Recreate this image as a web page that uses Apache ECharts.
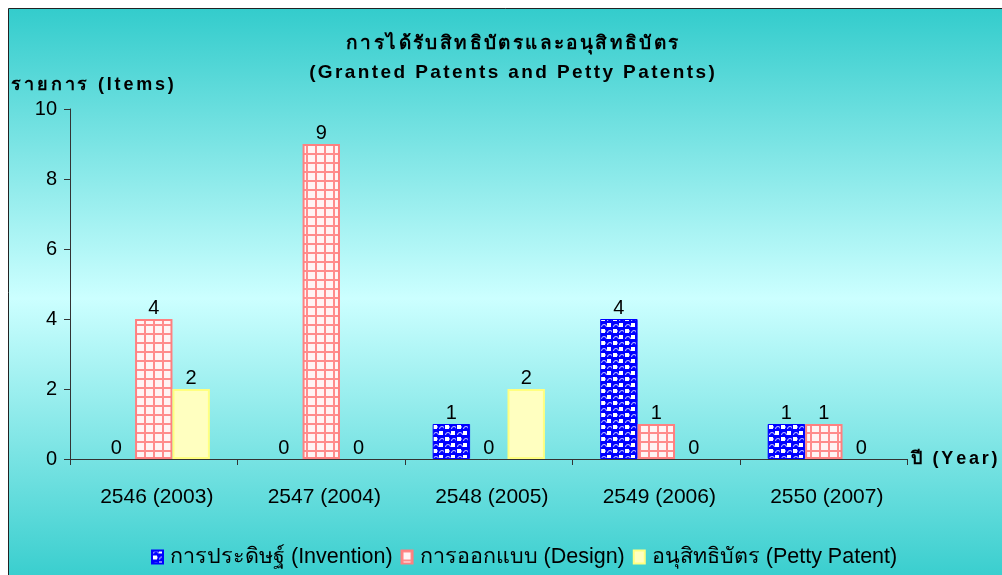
<!DOCTYPE html>
<html>
<head>
<meta charset="utf-8">
<script src="https://cdn.jsdelivr.net/npm/echarts@6/dist/echarts.min.js"></script>
<style>
  html, body { margin: 0; padding: 0; background: #ffffff; }
  #chart { width: 1002px; height: 575px; }
</style>
</head>
<body>
<div id="chart"></div>
<script>
// Granted patents and petty patents per year
const years = ['2546 (2003)', '2547 (2004)', '2548 (2005)', '2549 (2006)', '2550 (2007)'];
const seriesNames = ['การประดิษฐ์ (Invention)', 'การออกแบบ (Design)', 'อนุสิทธิบัตร (Petty Patent)'];
const invention = [0, 0, 1, 4, 1];
const design = [4, 9, 0, 1, 1];
const pettyPatent = [2, 0, 2, 0, 0];
const yTicks = [0, 2, 4, 6, 8, 10];
const titleLines = ['การได้รับสิทธิบัตรและอนุสิทธิบัตร', '(Granted Patents and Petty Patents)'];
const yName = 'รายการ (Items)';
const xName = 'ปี (Year)';

const FONT = '"Liberation Sans", Arial, "Noto Sans", sans-serif';

// Split text into clusters (Thai base letter + its combining marks) and wrap
// each one in a rich-text token so the bold headings get extra tracking.
function isThaiMark(ch) {
  const c = ch.charCodeAt(0);
  return c === 0x0E31 || (c >= 0x0E34 && c <= 0x0E3A) || (c >= 0x0E47 && c <= 0x0E4E);
}
function tracked(str, style) {
  const clusters = [];
  for (const ch of str) {
    if (clusters.length && isThaiMark(ch)) clusters[clusters.length - 1] += ch;
    else clusters.push(ch);
  }
  return clusters.map(c => '{' + style + '|' + c + '}').join('');
}
function boldTrack(size, lineHeight, pad) {
  return {
    fontSize: size,
    fontWeight: 'bold',
    color: '#000',
    fontFamily: FONT,
    lineHeight: lineHeight,
    padding: [0, pad, 0, pad]
  };
}

// Blue fill with white dotted/checker motif
function inventionPattern() {
  const c = document.createElement('canvas');
  c.width = 12; c.height = 12;
  const g = c.getContext('2d');
  g.fillStyle = '#0000ff';
  g.fillRect(0, 0, 12, 12);
  g.strokeStyle = '#d0d0ff';
  g.lineWidth = 1;
  g.beginPath(); g.arc(4, 3, 2.5, Math.PI, 2 * Math.PI); g.stroke();
  g.beginPath(); g.arc(10, 9, 2.5, Math.PI, 2 * Math.PI); g.stroke();
  g.fillStyle = '#ffffff';
  g.fillRect(1, 5, 4, 4);
  g.fillRect(7, 0, 4, 3);
  g.fillRect(7, 11, 4, 1);
  g.fillStyle = '#8080ff';
  g.fillRect(5, 6, 1, 2);
  return c;
}

// Pink grid with pale squares
function designPattern() {
  const c = document.createElement('canvas');
  c.width = 9; c.height = 9;
  const g = c.getContext('2d');
  g.fillStyle = '#fff4f4';
  g.fillRect(0, 0, 9, 9);
  g.fillStyle = '#ff8c8c';
  g.fillRect(0, 0, 9, 2);
  g.fillRect(0, 0, 2, 9);
  return c;
}

// Zero-height bars get no outline
function barData(values, borderWidth) {
  return values.map(v => ({ value: v, itemStyle: { borderWidth: v === 0 ? 0 : borderWidth } }));
}

const chart = echarts.init(document.getElementById('chart'), null, { renderer: 'canvas' });

const labelStyle = {
  show: true,
  position: 'top',
  color: '#000',
  fontSize: 20,
  fontFamily: FONT,
  distance: 1
};

chart.setOption({
  animation: false,
  graphic: [{
    type: 'rect',
    z: -10,
    shape: { x: 8.5, y: 8.5, width: 1000, height: 580 },
    style: {
      fill: new echarts.graphic.LinearGradient(0, 0, 0, 1, [
        { offset: 0, color: '#33cccc' },
        { offset: 0.5, color: '#ccffff' },
        { offset: 1, color: '#33cccc' }
      ]),
      stroke: '#222',
      lineWidth: 1
    },
    silent: true
  }],
  title: {
    text: tracked(titleLines[0], 't') + '\n' + tracked(titleLines[1], 't'),
    left: 507,
    textAlign: 'center',
    top: 24,
    textStyle: {
      fontSize: 19,
      fontWeight: 'bold',
      color: '#000',
      fontFamily: FONT,
      lineHeight: 29,
      rich: { t: boldTrack(19, 29, 1.2) }
    }
  },
  legend: {
    bottom: 2,
    left: 146,
    itemWidth: 11,
    itemHeight: 13,
    itemGap: 8,
    icon: 'rect',
    data: seriesNames,
    textStyle: { fontSize: 21.5, color: '#000', fontFamily: FONT, padding: [0, 0, 0, 2] }
  },
  grid: { left: 70, right: 94, top: 109, bottom: 116 },
  xAxis: {
    type: 'category',
    data: years,
    name: tracked(xName, 'n'),
    nameLocation: 'end',
    nameGap: 2,
    nameTextStyle: {
      fontSize: 18, fontWeight: 'bold', color: '#000', fontFamily: FONT,
      align: 'left', verticalAlign: 'middle',
      rich: { n: boldTrack(18, 22, 1.4) }
    },
    axisLine: { lineStyle: { color: '#333', width: 1 } },
    axisTick: { show: true, length: 6, lineStyle: { color: '#333' } },
    axisLabel: { fontSize: 21, color: '#000', fontFamily: FONT, margin: 28, padding: [0, 0, 0, 6] }
  },
  yAxis: {
    type: 'value',
    min: 0,
    max: 10,
    interval: 2,
    name: tracked(yName, 'n'),
    nameLocation: 'end',
    nameGap: 13,
    nameTextStyle: {
      fontSize: 18, fontWeight: 'bold', color: '#000', fontFamily: FONT,
      align: 'left', padding: [0, 0, 0, -60],
      rich: { n: boldTrack(18, 22, 1.4) }
    },
    axisLine: { show: true, lineStyle: { color: '#333', width: 1 } },
    axisTick: { show: true, length: 6, inside: false, lineStyle: { color: '#333' } },
    splitLine: { show: false },
    axisLabel: {
      fontSize: 20, color: '#000', fontFamily: FONT, margin: 13,
      formatter: v => yTicks.includes(v) ? String(v) : ''
    }
  },
  series: [
    {
      name: seriesNames[0],
      type: 'bar',
      data: barData(invention, 1),
      barGap: '0%',
      barCategoryGap: '33%',
      itemStyle: { color: { image: inventionPattern(), repeat: 'repeat' }, borderColor: '#0000ff', borderWidth: 1 },
      label: labelStyle
    },
    {
      name: seriesNames[1],
      type: 'bar',
      data: barData(design, 2),
      barGap: '0%',
      barCategoryGap: '33%',
      itemStyle: { color: { image: designPattern(), repeat: 'repeat' }, borderColor: '#ff8080', borderWidth: 2 },
      label: labelStyle
    },
    {
      name: seriesNames[2],
      type: 'bar',
      data: barData(pettyPatent, 2),
      barGap: '0%',
      barCategoryGap: '33%',
      itemStyle: { color: '#ffffc0', borderColor: '#ffff80', borderWidth: 2 },
      label: labelStyle
    }
  ]
});
</script>
</body>
</html>
